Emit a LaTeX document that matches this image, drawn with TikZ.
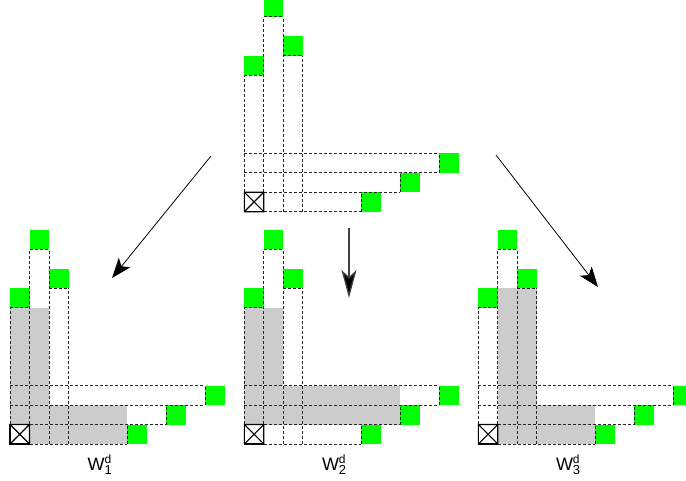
\documentclass[tikz,border=0pt]{standalone}
\usepackage{fontspec}
\setmainfont{Liberation Sans}
\usetikzlibrary{arrows.meta}
\definecolor{cellgreen}{RGB}{0,255,0}
\definecolor{shade}{RGB}{204,204,204}
\tikzset{
  gridline/.style={draw=black!85, line width=0.9pt, dash pattern=on 3pt off 2pt},
  greencell/.style={fill=cellgreen},
  shadecell/.style={fill=shade},
  crossbox/.style={draw=black, line width=1.1pt},
  flowarrow/.style={draw=black, line width=0.8pt, -{Stealth[length=20pt,width=15pt,inset=5pt]}},
  bigarrow/.style={draw=black!75, line width=1.3pt, -{Stealth[length=28pt,width=15pt,inset=7pt,fill=black]}},
  lab/.style={anchor=base west, inner sep=0pt, font=\fontsize{18}{18}\selectfont}
}
\newcommand\gridfig[3]{%
\begin{scope}[shift={(#1pt,-#2pt)}, x=19.5pt, y=19.5pt]
  #3
  \fill[crossbox, fill=white] (0,0) rectangle (1,1);
  \fill[greencell] (0,7) rectangle (1,8);
  \fill[greencell] (1,10) rectangle (2,11);
  \fill[greencell] (2,8) rectangle (3,9);
  \fill[greencell] (6,0) rectangle (7,1);
  \fill[greencell] (8,1) rectangle (9,2);
  \fill[greencell] (10,2) rectangle (11,3);
  % vertical grid lines, each drawn once from bottom up
  \draw[gridline] (0,0) -- (0,7);
  \draw[gridline] (1,0) -- (1,10);
  \draw[gridline] (2,0) -- (2,10);
  \draw[gridline] (3,0) -- (3,8);
  \draw[gridline] (6,0) -- (6,1);
  \draw[gridline] (8,1) -- (8,2);
  \draw[gridline] (10,2) -- (10,3);
  % horizontal grid lines, each drawn once from left to right
  \draw[gridline] (0,0) -- (6,0);
  \draw[gridline] (0,1) -- (8,1);
  \draw[gridline] (0,2) -- (10,2);
  \draw[gridline] (0,3) -- (10,3);
  \draw[gridline] (0,7) -- (1,7);
  \draw[gridline] (1,10) -- (2,10);
  \draw[gridline] (2,8) -- (3,8);
  \draw[crossbox] (0,0) rectangle (1,1) (0,0) -- (1,1) (0,1) -- (1,0);
\end{scope}}
\begin{document}
\begin{tikzpicture}[x=1pt, y=-1pt]
\useasboundingbox (0,0) rectangle (686,480);
% top figure
\gridfig{244.3}{211.7}{}
% bottom figures
\gridfig{10}{444}{\fill[shadecell] (0,0) rectangle (2,7); \fill[shadecell] (0,0) rectangle (6,2);}
\gridfig{244.3}{444}{\fill[shadecell] (0,1) rectangle (2,7); \fill[shadecell] (0,1) rectangle (8,3);}
\gridfig{478.3}{444}{\fill[shadecell] (1,0) rectangle (3,8); \fill[shadecell] (1,0) rectangle (6,2);}
% labels
\node[lab] (l1) at (87.5,470) {W$^{\hbox{\fontsize{12}{12}\selectfont d}}_{\hbox{\fontsize{13}{13}\selectfont 1}}$};
\node[lab] (l2) at (321.8,470) {W$^{\hbox{\fontsize{12}{12}\selectfont d}}_{\hbox{\fontsize{13}{13}\selectfont 2}}$};
\node[lab] (l3) at (555.8,470) {W$^{\hbox{\fontsize{12}{12}\selectfont d}}_{\hbox{\fontsize{13}{13}\selectfont 3}}$};
% arrows
\coordinate (s1) at (211,156);
\coordinate (e1) at (112,278);
\coordinate (s2) at (349,228);
\coordinate (e2) at (349,298);
\coordinate (s3) at (496,155);
\coordinate (e3) at (598,287);
\draw[flowarrow] (s1) -- (e1);
\draw[bigarrow] (s2) -- (e2);
\draw[flowarrow] (s3) -- (e3);
\end{tikzpicture}
\end{document}
